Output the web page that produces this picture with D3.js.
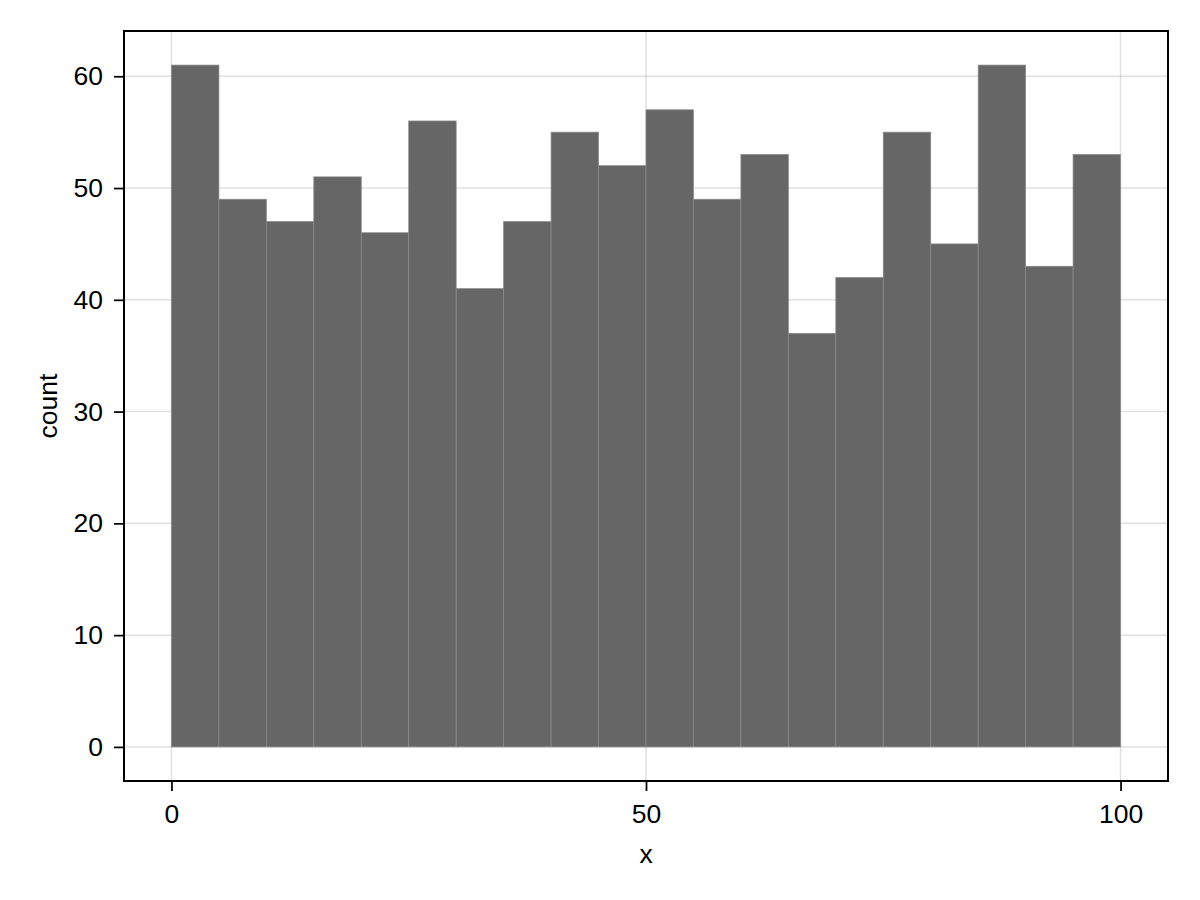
<!DOCTYPE html>
<html><head><meta charset="utf-8">
<script src="https://cdn.jsdelivr.net/npm/d3@7"></script>
<style>body{margin:0;background:#fff}svg{display:block}text{font-family:"Liberation Sans",Arial,sans-serif}</style>
</head><body>
<svg id="c" width="1200" height="900"></svg>
<script>
const binEdges = [0,5,10,15,20,25,30,35,40,45,50,55,60,65,70,75,80,85,90,95,100];
const counts = [61,49,47,51,46,56,41,47,55,52,57,49,53,37,42,55,45,61,43,53];
const xTicks = [0,50,100];
const yTicks = [0,10,20,30,40,50,60];
const xLabel = "x", yLabel = "count";

const svg = d3.select("#c");
const L=124,R=1168,T=31,B=781;
const FS=26.5;
const x = d3.scaleLinear().domain([-5,105]).range([L,R]);
const y = d3.scaleLinear().domain([-3.05,64.05]).range([B,T]);

// grid
svg.append("g").selectAll("line").data(xTicks).join("line")
  .attr("x1",d=>x(d)).attr("x2",d=>x(d)).attr("y1",T).attr("y2",B)
  .attr("stroke","rgba(0,0,0,0.12)").attr("stroke-width",1.5);
svg.append("g").selectAll("line").data(yTicks).join("line")
  .attr("x1",L).attr("x2",R).attr("y1",d=>y(d)).attr("y2",d=>y(d))
  .attr("stroke","rgba(0,0,0,0.12)").attr("stroke-width",1.5);

// bars
const bins = counts.map((c,i)=>({x0:binEdges[i],x1:binEdges[i+1],c}));
svg.append("g").selectAll("rect").data(bins).join("rect")
  .attr("x",d=>x(d.x0)).attr("width",d=>x(d.x1)-x(d.x0))
  .attr("y",d=>y(d.c)).attr("height",d=>y(0)-y(d.c))
  .attr("fill","#666666").attr("stroke","#8a8a8a").attr("stroke-width",0.75);

// frame
svg.append("rect").attr("x",L).attr("y",T).attr("width",R-L).attr("height",B-T)
  .attr("fill","none").attr("stroke","#000").attr("stroke-width",2);

// axes
const xa = d3.axisBottom(x).tickValues(xTicks).tickSize(10).tickPadding(13).tickFormat(d3.format("d"));
const gx = svg.append("g").attr("transform",`translate(0,${B})`).call(xa);
gx.select(".domain").remove();
gx.selectAll("line").attr("stroke-width",1.75);
gx.selectAll("text").attr("font-size",FS).attr("fill","#000");

const ya = d3.axisLeft(y).tickValues(yTicks).tickSize(10).tickPadding(11).tickFormat(d3.format("d"));
const gy = svg.append("g").attr("transform",`translate(${L},0)`).call(ya);
gy.select(".domain").remove();
gy.selectAll("line").attr("stroke-width",1.75);
gy.selectAll("text").attr("font-size",FS).attr("fill","#000");

svg.append("text").attr("x",(L+R)/2).attr("y",863).attr("text-anchor","middle")
  .attr("font-size",FS).text(xLabel);
svg.append("text").attr("transform",`translate(57,${(T+B)/2}) rotate(-90)`).attr("text-anchor","middle")
  .attr("font-size",FS).text(yLabel);
</script>
</body></html>
